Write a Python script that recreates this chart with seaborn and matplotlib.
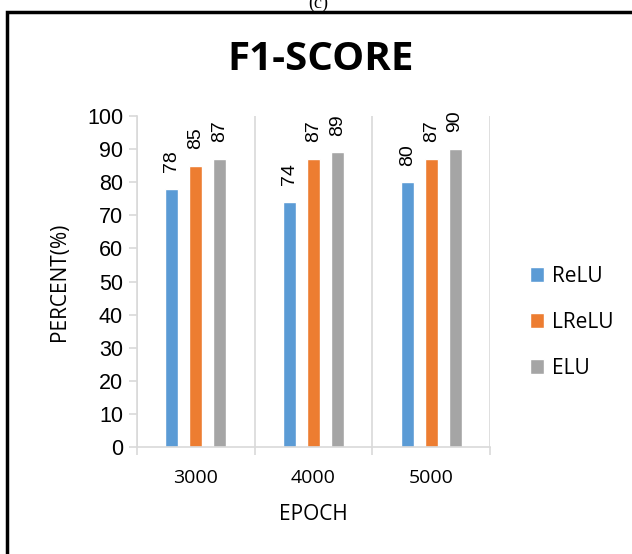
import numpy as np
import pandas as pd
import matplotlib
matplotlib.use('Agg')
import matplotlib.pyplot as plt
import seaborn as sns
from matplotlib.patches import Rectangle

# Data
epochs = ['3000', '4000', '5000']
relu = [78, 74, 80]
lrelu = [85, 87, 87]
elu = [87, 89, 90]
series_names = ['ReLU', 'LReLU', 'ELU']
colors = ['#5b9bd5', '#ed7d31', '#a5a5a5']

df = pd.DataFrame({
    'epoch': epochs * 3,
    'value': relu + lrelu + elu,
    'act': [s for s in series_names for _ in epochs],
})

sns.set_style('white')
plt.rcParams['font.family'] = ['Open Sans', 'DejaVu Sans']
plt.rcParams['text.color'] = 'black'
plt.rcParams['axes.labelcolor'] = 'black'
plt.rcParams['xtick.labelcolor'] = 'black'
plt.rcParams['ytick.labelcolor'] = 'black'

#Setup figure and axes:
fig = plt.figure(figsize=(6.32, 5.54), dpi=100)
ax = fig.add_axes([137 / 632, 1 - 447 / 554, 353 / 632, 331 / 554])

#Outer border of the chart frame:
fig.patches.append(Rectangle((7 / 632, -0.1), 1.2, (554 - 12) / 554 + 0.1,
                             transform=fig.transFigure, fill=False,
                             edgecolor='black', linewidth=2.5))
fig.text(318 / 632, 1 - 3 / 554, '(c)', ha='center', va='center', fontsize=13,
         family='Liberation Serif')

#Bars:
sns.barplot(data=df, x='epoch', y='value', hue='act', palette=colors,
            width=0.61, gap=0.46, saturation=1, ax=ax, legend=True)

#Bar labels rotated:
for cont in ax.containers:
    ax.bar_label(cont, rotation=90, padding=12, fontsize=14,
                 family='Liberation Sans', color='black')

ax.set_ylim(0, 100)
ax.set_xlim(-0.5, 2.5)
ax.set_yticks(np.arange(0, 101, 10))
ax.set_yticklabels([str(v) for v in range(0, 101, 10)],
                   family='Liberation Sans', fontsize=15.5)
ax.set_xticks(range(3))
ax.set_xticklabels(epochs, fontsize=14)

#Gridlines at category boundaries:
ax.set_xticks([-0.5, 0.5, 1.5, 2.5], minor=True)
ax.grid(False)
ax.grid(axis='x', which='minor', color='#d9d9d9', linewidth=1.2)
ax.tick_params(axis='x', which='major', length=0, pad=16)
ax.tick_params(axis='x', which='minor', length=6, width=1.2, color='#d9d9d9',
               direction='out', bottom=True)
ax.tick_params(axis='y', length=6, width=1.2, color='#d9d9d9',
               direction='out', left=True, pad=4)

for s in ['top', 'right']:
    ax.spines[s].set_visible(False)
for s in ['left', 'bottom']:
    ax.spines[s].set_color('#d9d9d9')
    ax.spines[s].set_linewidth(1.2)

ax.set_xlabel('EPOCH', fontsize=15, labelpad=12)
ax.set_ylabel('PERCENT(%)', fontsize=15, labelpad=12)

fig.text(321 / 632, 1 - 59 / 554, 'F1-SCORE', ha='center', va='center',
         fontsize=29, fontweight='bold', color='black')

#Legend:
handles, labels = ax.get_legend_handles_labels()
ax.legend_.remove()
fig.legend(handles, labels, loc='center left',
           bbox_to_anchor=(511 / 632, 1 - 322 / 554), frameon=False,
           fontsize=15, handlelength=0.7, handleheight=0.7,
           handletextpad=0.35, labelspacing=1.2)

fig.savefig('out.png', dpi=100)
